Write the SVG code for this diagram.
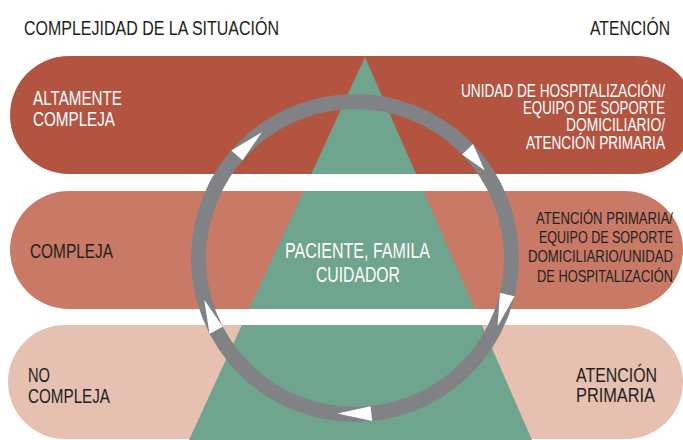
<svg xmlns="http://www.w3.org/2000/svg" width="683" height="440" viewBox="0 0 683 440">
  <style>
    .t { font-family: "Liberation Sans Narrow", "Liberation Sans", Arial, sans-serif; font-size: 21px; }
    .s1 { font-size: 17.5px; }
    .s2 { font-size: 16.5px; }
    .dark { fill: #231f20; }
    .light { fill: #ffffff; }
    .arrowhead { fill: #ffffff; }
  </style>
  <rect width="683" height="440" fill="#ffffff"/>

  <g id="header">
    <text class="t dark" x="24" y="34.5" textLength="255" lengthAdjust="spacingAndGlyphs">COMPLEJIDAD DE LA SITUACIÓN</text>
    <text class="t dark" x="590" y="34.5" textLength="80" lengthAdjust="spacingAndGlyphs">ATENCIÓN</text>
  </g>

  <g id="band-high">
    <rect x="10" y="56" width="685" height="118" rx="59" ry="59" fill="#b35441"/>
  </g>
  <g id="band-medium">
    <rect x="10" y="191" width="673" height="118" rx="59" ry="59" fill="#c97a67"/>
  </g>
  <g id="band-low">
    <rect x="8" y="325" width="675" height="114" rx="57" ry="57" fill="#e6c0b1"/>
  </g>

  <g id="pyramid">
    <polygon points="365,57 189,440 532,440" fill="#6fa48f"/>
    <rect x="0" y="174" width="683" height="17" fill="#ffffff"/>
    <rect x="0" y="309" width="683" height="16" fill="#ffffff"/>
  </g>

  <g id="connectors">
    <circle cx="355" cy="258" r="156.5" fill="none" stroke="#808285" stroke-width="15"/>
    <polygon class="arrowhead" points="242.55,160.24 231.23,150.4 261.91,132.19"/>
    <polygon class="arrowhead" points="462.18,154.49 472.97,144.07 484.74,170.49"/>
    <polygon class="arrowhead" points="499.89,292.78 514.47,296.28 497.5,326.5"/>
    <polygon class="arrowhead" points="370.57,406.18 372.14,421.1 337.28,413.5"/>
    <polygon class="arrowhead" points="222.84,326.79 209.53,333.72 204.2,299.82"/>
  </g>

  <g id="label-high">
    <text class="t light" x="33" y="105" textLength="89" lengthAdjust="spacingAndGlyphs">ALTAMENTE</text>
    <text class="t light" x="33" y="126" textLength="82" lengthAdjust="spacingAndGlyphs">COMPLEJA</text>
  </g>
  <g id="label-medium">
    <text class="t dark" x="30" y="257.5" textLength="83" lengthAdjust="spacingAndGlyphs">COMPLEJA</text>
  </g>
  <g id="label-low">
    <text class="t dark" x="28" y="381.5" textLength="22" lengthAdjust="spacingAndGlyphs">NO</text>
    <text class="t dark" x="28" y="403" textLength="82" lengthAdjust="spacingAndGlyphs">COMPLEJA</text>
  </g>

  <g id="care-high">
    <text class="t s1 light" x="461" y="96.5" textLength="204" lengthAdjust="spacingAndGlyphs">UNIDAD DE HOSPITALIZACIÓN/</text>
    <text class="t s1 light" x="523" y="114" textLength="142" lengthAdjust="spacingAndGlyphs">EQUIPO DE SOPORTE</text>
    <text class="t s1 light" x="566" y="131" textLength="99" lengthAdjust="spacingAndGlyphs">DOMICILIARIO/</text>
    <text class="t s1 light" x="526" y="148.5" textLength="139" lengthAdjust="spacingAndGlyphs">ATENCIÓN PRIMARIA</text>
  </g>
  <g id="care-medium">
    <text class="t s2 dark" x="536" y="223.5" textLength="137" lengthAdjust="spacingAndGlyphs">ATENCIÓN PRIMARIA/</text>
    <text class="t s2 dark" x="539" y="242.5" textLength="134" lengthAdjust="spacingAndGlyphs">EQUIPO DE SOPORTE</text>
    <text class="t s2 dark" x="528" y="262" textLength="145" lengthAdjust="spacingAndGlyphs">DOMICILIARIO/UNIDAD</text>
    <text class="t s2 dark" x="537" y="281.5" textLength="136" lengthAdjust="spacingAndGlyphs">DE HOSPITALIZACIÓN</text>
  </g>
  <g id="care-low">
    <text class="t dark" x="576" y="381.5" textLength="81" lengthAdjust="spacingAndGlyphs">ATENCIÓN</text>
    <text class="t dark" x="576" y="402" textLength="79" lengthAdjust="spacingAndGlyphs">PRIMARIA</text>
  </g>

  <g id="center">
    <text class="t light" x="285" y="258.3" font-size="22" style="font-size:22px" textLength="145" lengthAdjust="spacingAndGlyphs">PACIENTE, FAMILA</text>
    <text class="t light" x="316" y="281.5" style="font-size:22px" textLength="84" lengthAdjust="spacingAndGlyphs">CUIDADOR</text>
  </g>
</svg>
